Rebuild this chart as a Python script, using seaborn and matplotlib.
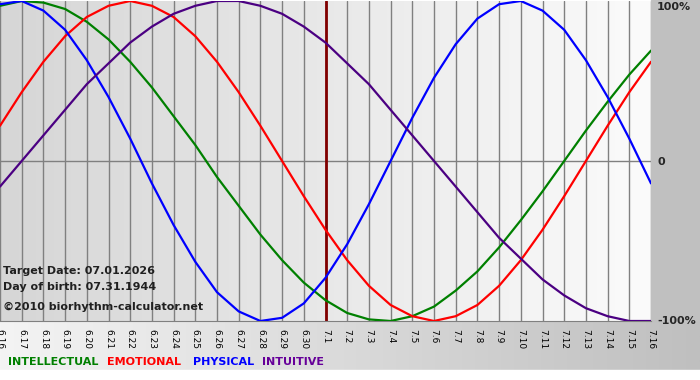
import numpy as np
import pandas as pd
import matplotlib
matplotlib.use("Agg")
import matplotlib.pyplot as plt
import seaborn as sns
from matplotlib.colors import LinearSegmentedColormap

## Dados (valores em fração de 100%)
days = ["6.16", "6.17", "6.18", "6.19", "6.20", "6.21", "6.22", "6.23", "6.24", "6.25",
        "6.26", "6.27", "6.28", "6.29", "6.30", "7.1", "7.2", "7.3", "7.4", "7.5",
        "7.6", "7.7", "7.8", "7.9", "7.10", "7.11", "7.12", "7.13", "7.14", "7.15", "7.16"]

physical = [0.98, 1.00, 0.94, 0.82, 0.63, 0.40, 0.14, -0.14, -0.40, -0.63,
            -0.82, -0.94, -1.00, -0.98, -0.89, -0.73, -0.52, -0.27, 0.00, 0.27,
            0.52, 0.73, 0.89, 0.98, 1.00, 0.94, 0.82, 0.63, 0.40, 0.14, -0.14]

emotional = [0.22, 0.43, 0.62, 0.78, 0.90, 0.97, 1.00, 0.97, 0.90, 0.78,
             0.62, 0.43, 0.22, 0.00, -0.22, -0.43, -0.62, -0.78, -0.90, -0.97,
             -1.00, -0.97, -0.90, -0.78, -0.62, -0.43, -0.22, 0.00, 0.22, 0.43, 0.62]

intellectual = [0.97, 1.00, 0.99, 0.95, 0.87, 0.76, 0.62, 0.46, 0.28, 0.10,
                -0.10, -0.28, -0.46, -0.62, -0.76, -0.87, -0.95, -0.99, -1.00, -0.97,
                -0.91, -0.81, -0.69, -0.54, -0.37, -0.19, 0.00, 0.19, 0.37, 0.54, 0.69]

intuitive = [-0.16, 0.00, 0.16, 0.32, 0.48, 0.61, 0.74, 0.84, 0.92, 0.97,
             1.00, 1.00, 0.97, 0.92, 0.84, 0.74, 0.61, 0.48, 0.32, 0.16,
             0.00, -0.16, -0.32, -0.48, -0.61, -0.74, -0.84, -0.92, -0.97, -1.00, -1.00]

target_day = "7.1"
series_names = ["INTELLECTUAL", "EMOTIONAL", "PHYSICAL", "INTUITIVE"]
palette = {"INTELLECTUAL": "#008000", "EMOTIONAL": "#ff0000",
           "PHYSICAL": "#0000ff", "INTUITIVE": "#4b0082"}
legend_colors = {"INTELLECTUAL": "#008000", "EMOTIONAL": "#ff0000",
                 "PHYSICAL": "#0000ff", "INTUITIVE": "#660099"}

## Montando o DataFrame longo para o seaborn
x_idx = np.arange(len(days))
df = pd.concat([
    pd.DataFrame({"dia": x_idx, "valor": intellectual, "serie": "INTELLECTUAL"}),
    pd.DataFrame({"dia": x_idx, "valor": emotional, "serie": "EMOTIONAL"}),
    pd.DataFrame({"dia": x_idx, "valor": physical, "serie": "PHYSICAL"}),
    pd.DataFrame({"dia": x_idx, "valor": intuitive, "serie": "INTUITIVE"}),
], ignore_index=True)

sns.set_style("white")
plt.rcParams['font.family'] = ['DejaVu Sans']

W, H = 700, 380
fig = plt.figure(figsize=(W / 100, H / 100), dpi=100)

# Fundo da figura (faixa inferior em degradê, margem direita cinza)
bg = fig.add_axes([0, 0, 1, 1], zorder=-5)
bg.set_xlim(0, W)
bg.set_ylim(H, 0)
bg.axis("off")
cmap_bottom = LinearSegmentedColormap.from_list("b", ["#f4f4f4", "#bfbfbf"])
bg.imshow(np.linspace(0, 1, 256).reshape(1, -1), cmap=cmap_bottom, aspect="auto",
          extent=[0, W, 370, 321], zorder=0)
bg.add_patch(plt.Rectangle((651, 0), W - 651, 321, color="#c0c0c0", zorder=1))
bg.add_patch(plt.Rectangle((0, 370), W, H - 370, color="#ffffff", zorder=1))

# Área do gráfico
ax = fig.add_axes([0, 1 - 321 / H, 651 / W, 320 / H])
cmap_plot = LinearSegmentedColormap.from_list("p", ["#d6d6d6", "#fbfbfb"])
ax.imshow(np.linspace(0, 1, 256).reshape(1, -1), cmap=cmap_plot, aspect="auto",
          extent=[0, len(days) - 1, -1, 1], zorder=0)

for xi in x_idx:
    ax.axvline(xi, color="#808080", lw=1, zorder=1)
ax.axhline(0, color="#808080", lw=1, zorder=1)
ax.axvline(days.index(target_day), color="#800000", lw=2, zorder=2)

sns.lineplot(data=df, x="dia", y="valor", hue="serie", hue_order=series_names,
             palette=palette, lw=1.6, legend=False, ax=ax, zorder=3)

ax.set_xlim(0, len(days) - 1)
ax.set_ylim(-1.0, 1.0)
ax.set_xlabel("")
ax.set_ylabel("")
ax.set_yticks([])
ax.set_xticks(x_idx)
ax.set_xticklabels(days, rotation=-90, fontsize=6.5, color="#000000")
ax.tick_params(axis="x", length=4, width=1, color="#808080", pad=2)
for side in ["left", "top", "right"]:
    ax.spines[side].set_visible(False)
ax.spines["bottom"].set_color("#808080")

# Rótulos à direita
def px(x, y):
    return x / W, 1 - y / H

fig.text(*px(657, 7), "100%", fontsize=8, fontweight="bold", va="center", ha="left")
fig.text(*px(657, 162), "0", fontsize=8, fontweight="bold", va="center", ha="left")
fig.text(*px(657, 321), "-100%", fontsize=8, fontweight="bold", va="center", ha="left")

# Informações
fig.text(*px(3, 271), "Target Date: 07.01.2026", fontsize=8, fontweight="bold", va="center", color="#202020")
fig.text(*px(3, 287), "Day of birth: 07.31.1944", fontsize=8, fontweight="bold", va="center", color="#202020")
fig.text(*px(3, 307), "©2010 biorhythm-calculator.net", fontsize=8, fontweight="bold", va="center", color="#202020")

# Legenda
legend_x = [8, 107, 193, 262]
for name, lx in zip(series_names, legend_x):
    fig.text(*px(lx, 362), name, fontsize=8, fontweight="bold", va="center",
             color=legend_colors[name])

plt.savefig("out.png", dpi=100)
